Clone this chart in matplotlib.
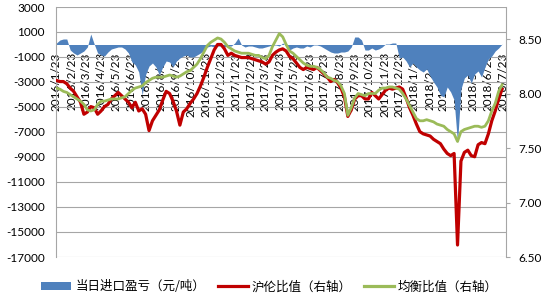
import matplotlib
matplotlib.use("Agg")
import matplotlib.pyplot as plt
import pandas as pd
from matplotlib.patches import Patch
from matplotlib.lines import Line2D
from matplotlib.font_manager import FontProperties

plt.rcParams['font.family'] = ['Lato', 'Noto Sans CJK SC', 'DejaVu Sans']

# weekly samples, 2016/1/23 .. 2018/7/21
week_dates = pd.date_range("2016-01-23", periods=131, freq="7D")

# 当日进口盈亏 (元/吨), left axis
import_pnl = [
    120, 360, 440, 440, -440, -680, -840, -680, -520, -200,
    840, 40, -680, -840, -920, -600, -360, -280, -200, -200,
    -360, -680, -1400, -1640, -2200, -4040, -2400, -1720, -1480, -1800,
    -2440, -1800, -1320, -1400, -1800, -1320, -1080, -920, -840, -1000,
    -1000, -840, -680, -440, -200, -120, -200, -120, -120, -200,
    -120, -120, 120, 520, -40, -200, -120, -120, -200, -280,
    -280, -200, -120, -40, -40, -120, 120, -120, -440, -280,
    -200, -280, -280, -120, -200, -40, -40, -120, -280, -440,
    -600, -680, -680, -600, -600, -520, -200, 600, 600, 360,
    -440, -440, -280, -440, -360, -200, 40, 40, 120, 120,
    -1080, -1000, -1320, -1800, -1480, -1800, -2040, -2200, -1960, -2520,
    -3000, -3400, -4040, -4200, -3400, -3800, -4440, -7880, -3560, -2680,
    -2440, -3080, -2360, -2120, -2600, -1800, -1160, -920, -520, -280, 40,
]

# 沪伦比值 (right axis)
shfe_lme_ratio = [
    8.12, 8.11, 8.11, 8.09, 8.05, 8.02, 7.97, 7.92, 7.81, 7.83,
    7.88, 7.87, 7.81, 7.84, 7.88, 7.90, 7.95, 7.98, 8.01, 7.98,
    7.95, 7.92, 7.87, 7.92, 7.84, 7.86, 7.81, 7.66, 7.75, 7.80,
    7.85, 7.94, 8.02, 8.00, 7.93, 7.84, 7.71, 7.83, 7.86, 7.91,
    7.95, 8.00, 8.07, 8.15, 8.24, 8.32, 8.40, 8.45, 8.45, 8.41,
    8.35, 8.37, 8.35, 8.34, 8.33, 8.33, 8.33, 8.32, 8.31, 8.30,
    8.29, 8.27, 8.29, 8.35, 8.38, 8.40, 8.41, 8.39, 8.34, 8.32,
    8.28, 8.24, 8.22, 8.24, 8.23, 8.22, 8.24, 8.21, 8.18, 8.15,
    8.11, 8.13, 8.10, 8.05, 7.97, 7.79, 7.85, 7.95, 7.98, 7.98,
    7.95, 7.95, 8.01, 7.98, 7.95, 7.99, 8.03, 8.05, 8.04, 8.05,
    8.06, 8.04, 7.96, 7.87, 7.80, 7.72, 7.65, 7.63, 7.62, 7.61,
    7.58, 7.56, 7.54, 7.49, 7.45, 7.43, 7.45, 6.61, 7.38, 7.46,
    7.48, 7.43, 7.42, 7.53, 7.55, 7.54, 7.63, 7.75, 7.84, 7.95, 8.04,
]

# 均衡比值 (right axis)
balance_ratio = [
    8.05, 8.04, 8.02, 8.01, 7.99, 7.97, 7.95, 7.93, 7.90, 7.85,
    7.84, 7.85, 7.90, 7.93, 7.93, 7.94, 7.95, 7.95, 7.95, 7.96,
    7.97, 8.00, 8.03, 8.05, 8.06, 8.07, 8.10, 8.12, 8.14, 8.15,
    8.15, 8.15, 8.16, 8.17, 8.16, 8.15, 8.16, 8.18, 8.20, 8.21,
    8.24, 8.27, 8.32, 8.38, 8.44, 8.47, 8.49, 8.51, 8.50, 8.47,
    8.43, 8.41, 8.39, 8.38, 8.37, 8.37, 8.37, 8.36, 8.35, 8.35,
    8.33, 8.32, 8.35, 8.43, 8.49, 8.55, 8.52, 8.45, 8.39, 8.37,
    8.34, 8.31, 8.28, 8.26, 8.25, 8.25, 8.24, 8.22, 8.19, 8.15,
    8.14, 8.12, 8.11, 8.07, 8.00, 7.80, 7.87, 7.96, 8.00, 7.99,
    7.98, 8.00, 8.00, 8.00, 8.03, 8.05, 8.05, 8.06, 8.06, 8.05,
    8.04, 8.00, 7.95, 7.89, 7.83, 7.77, 7.75, 7.75, 7.76, 7.75,
    7.74, 7.72, 7.71, 7.70, 7.67, 7.65, 7.63, 7.56, 7.65, 7.67,
    7.68, 7.69, 7.70, 7.70, 7.69, 7.70, 7.75, 7.84, 7.91, 8.02, 8.08,
]

label_dates = pd.date_range("2016-01-23", "2018-07-23", freq=pd.DateOffset(months=1))
label_text = [f"{d.year}/{d.month}/{d.day}" for d in label_dates]

left_ticks = list(range(-17000, 3001, 2000))
right_ticks = [6.5, 7.0, 7.5, 8.0, 8.5]

BLUE = "#4F81BD"
RED = "#C00000"
GREEN = "#9BBB59"
GRID = "#A6A6A6"

fig = plt.figure(figsize=(5.5, 3.0), dpi=100)
ax = fig.add_axes([56 / 550, 43 / 300, 450 / 550, 250 / 300])

ax.fill_between(week_dates, import_pnl, 0, color=BLUE, linewidth=0, zorder=2)
ax.set_ylim(-17000, 3000)
ax.set_yticks(left_ticks)
ax.set_yticklabels([str(v) for v in left_ticks])
ax.set_xlim(pd.Timestamp("2016-01-22"), pd.Timestamp("2018-07-29"))
ax.yaxis.grid(True, color=GRID, linewidth=0.8)
ax.set_axisbelow(True)

ax.spines['top'].set_visible(False)
ax.spines['right'].set_visible(False)
ax.spines['left'].set_color(GRID)
ax.spines['bottom'].set_position(('data', 0))
ax.spines['bottom'].set_visible(False)

ax.set_xticks(label_dates)
ax.set_xticklabels(label_text, rotation=90)
ax.tick_params(axis='x', length=0, pad=5.5, labelsize=8.5)
ax.tick_params(axis='y', length=0, pad=8, labelsize=8.5)

ax2 = ax.twinx()
ax2.plot(week_dates, shfe_lme_ratio, color=RED, linewidth=2.3)
ax2.plot(week_dates, balance_ratio, color=GREEN, linewidth=2.0)
ax2.set_ylim(6.5, 8.794)
ax2.set_yticks(right_ticks)
ax2.set_yticklabels([f"{v:.2f}" for v in right_ticks])
ax2.tick_params(axis='y', length=3, width=0.8, color=GRID, pad=6, labelsize=8.5)
for s in ['top', 'left', 'bottom']:
    ax2.spines[s].set_visible(False)
ax2.spines['right'].set_color(GRID)

handles = [
    Patch(facecolor=BLUE, edgecolor='none'),
    Line2D([], [], color=RED, linewidth=2.3),
    Line2D([], [], color=GREEN, linewidth=2.3),
]
labels = ["当日进口盈亏（元/吨）", "沪伦比值（右轴）", "均衡比值（右轴）"]
fig.legend(handles, labels, loc='center', bbox_to_anchor=(0.49, 1 - 287 / 300),
           ncol=3, frameon=False, handlelength=2.4, handleheight=0.6,
           handletextpad=0.3, columnspacing=1.0,
           prop=FontProperties(family=['Noto Sans CJK SC', 'DejaVu Sans'], size=9))

fig.savefig("out.png", dpi=100)
